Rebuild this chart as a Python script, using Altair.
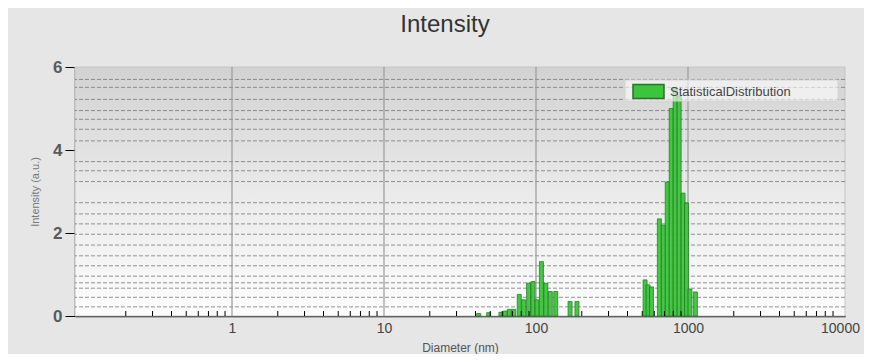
import altair as alt
import pandas as pd

# ---- data ----
diameters = [42.0, 48.8, 58.8, 62.9, 66.8, 71.4, 77.6, 83.0, 89.4, 95.6, 101.5, 108.6, 116.1, 124.2, 134.9, 167.5, 186.0,
             521.9, 545.8, 575.2, 648.2, 688.3, 730.6, 775.6, 823.4, 874.3, 928.1, 978.0, 1030.0, 1118.6]
intensity = [0.06, 0.08, 0.09, 0.12, 0.16, 0.16, 0.52, 0.39, 0.79, 0.83, 0.39, 1.31, 0.79, 0.59, 0.59, 0.35, 0.35,
             0.87, 0.75, 0.70, 2.34, 2.19, 3.23, 5.0, 5.5, 5.3, 2.96, 2.72, 0.65, 0.58]
series_name = "StatisticalDistribution"

x_tick_labels = [1, 10, 100, 1000, 10000]
y_tick_labels = [0, 2, 4, 6]
x_major_grid = [1, 10, 100, 1000]
y_grid = [0.22, 0.45, 0.67, 0.8, 0.96, 1.21, 1.45, 1.71, 1.97, 2.22, 2.46, 2.73,
          3.24, 3.5, 3.72, 4.22, 4.5, 4.74, 4.95, 5.22, 5.51, 5.7]
minor_ticks = [m * d for d in [0.1, 1, 10, 100, 1000] for m in range(2, 10)]

bars_df = pd.DataFrame({"d": diameters, "v": intensity, "s": [series_name] * len(diameters)})
ygrid_df = pd.DataFrame({"d": [1.0] * len(y_grid), "v": y_grid})
xgrid_df = pd.DataFrame({"d": x_major_grid, "v": [0.0] * len(x_major_grid)})
ticks_df = pd.DataFrame({"d": minor_ticks})

FONT = "Liberation Sans"
W, H = 770, 249
xscale = alt.Scale(type="log", domain=[0.1, 10000], nice=False)
yscale = alt.Scale(domain=[0, 6], nice=False, zero=True)

xaxis = alt.Axis(title="Diameter (nm)", values=x_tick_labels, format="d", grid=False, ticks=False,
                 domainColor="#000", domainWidth=1.5, labelFontSize=14, labelColor="#444",
                 labelPadding=5, labelFont=FONT, titleFont=FONT, titleFontSize=12,
                 titleFontWeight="normal", titleColor="#555", titlePadding=7, labelFlush=False)
yaxis = alt.Axis(title="Intensity (a.u.)", values=y_tick_labels, grid=False, tickSize=10,
                 tickColor="#000", domainColor="#000", domainWidth=1.5, labelFontSize=17,
                 labelFontWeight="bold", labelColor="#5a5a5a", labelPadding=3, labelFont=FONT,
                 titleFont=FONT, titleFontSize=11, titleFontWeight="normal", titleColor="#777",
                 titlePadding=12)

X = alt.X("d:Q", scale=xscale, axis=xaxis)
Y = alt.Y("v:Q", scale=yscale, axis=yaxis)

bg = alt.Chart(pd.DataFrame({"a": [0]})).mark_rect(
    fill=alt.Gradient(gradient="linear", x1=0, x2=0, y1=0, y2=1,
                      stops=[alt.GradientStop(color="#d2d2d2", offset=0),
                             alt.GradientStop(color="#eaeaea", offset=0.5),
                             alt.GradientStop(color="#fdfdfd", offset=1)]),
    stroke="#c4c4c4", strokeWidth=1
).encode(x=alt.value(0), x2=alt.value(W), y=alt.value(0), y2=alt.value(H))

hgrid = alt.Chart(ygrid_df).mark_rule(color="#707070", strokeDash=[4, 2], strokeWidth=1, opacity=0.75).encode(
    y=Y
)

vgrid = alt.Chart(xgrid_df).mark_rule(color="#9a9a9a", strokeWidth=1.2).encode(
    x=X
)

bars = alt.Chart(bars_df).mark_bar(size=4, stroke="#1f7a1f", strokeWidth=0.8, opacity=0.95).encode(
    x=X,
    y=Y,
    color=alt.Color("s:N", scale=alt.Scale(range=["#3cc43c"]),
                    legend=alt.Legend(orient="none", legendX=557, legendY=8, title=None, padding=0,
                                      symbolType="M-1,-0.45H1V0.45H-1Z", symbolSize=961,
                                      symbolStrokeColor="#2a6f2a", symbolStrokeWidth=1.5,
                                      symbolOpacity=1, labelFontSize=13, labelColor="#444",
                                      labelFont=FONT, labelOffset=5)),
)

legend_box = alt.Chart(pd.DataFrame({"a": [0]})).mark_rect(
    fill="#ffffff", fillOpacity=0.6, stroke="#d4d4d4", strokeWidth=1
).encode(x=alt.value(550), x2=alt.value(763), y=alt.value(13), y2=alt.value(34))

ticks = alt.Chart(ticks_df).mark_rule(color="#000", strokeWidth=1).encode(
    x=X,
    y=alt.value(H), y2=alt.value(H - 5)
)

chart = alt.layer(bg, hgrid, vgrid, bars, legend_box, ticks).properties(
    width=W, height=H,
    autosize=alt.AutoSizeParams(type="none"),
    padding={"left": 67, "top": 59, "right": 19, "bottom": 38},
    background="#e6e6e6",
    title=alt.TitleParams("Intensity", fontSize=24, color="#333", font=FONT, fontWeight="normal",
                          anchor="middle", frame="group", dx=-15, baseline="alphabetic", offset=2),
).configure_view(stroke=None)

chart.save("out.html", embed_options={"renderer": "svg", "actions": False})
